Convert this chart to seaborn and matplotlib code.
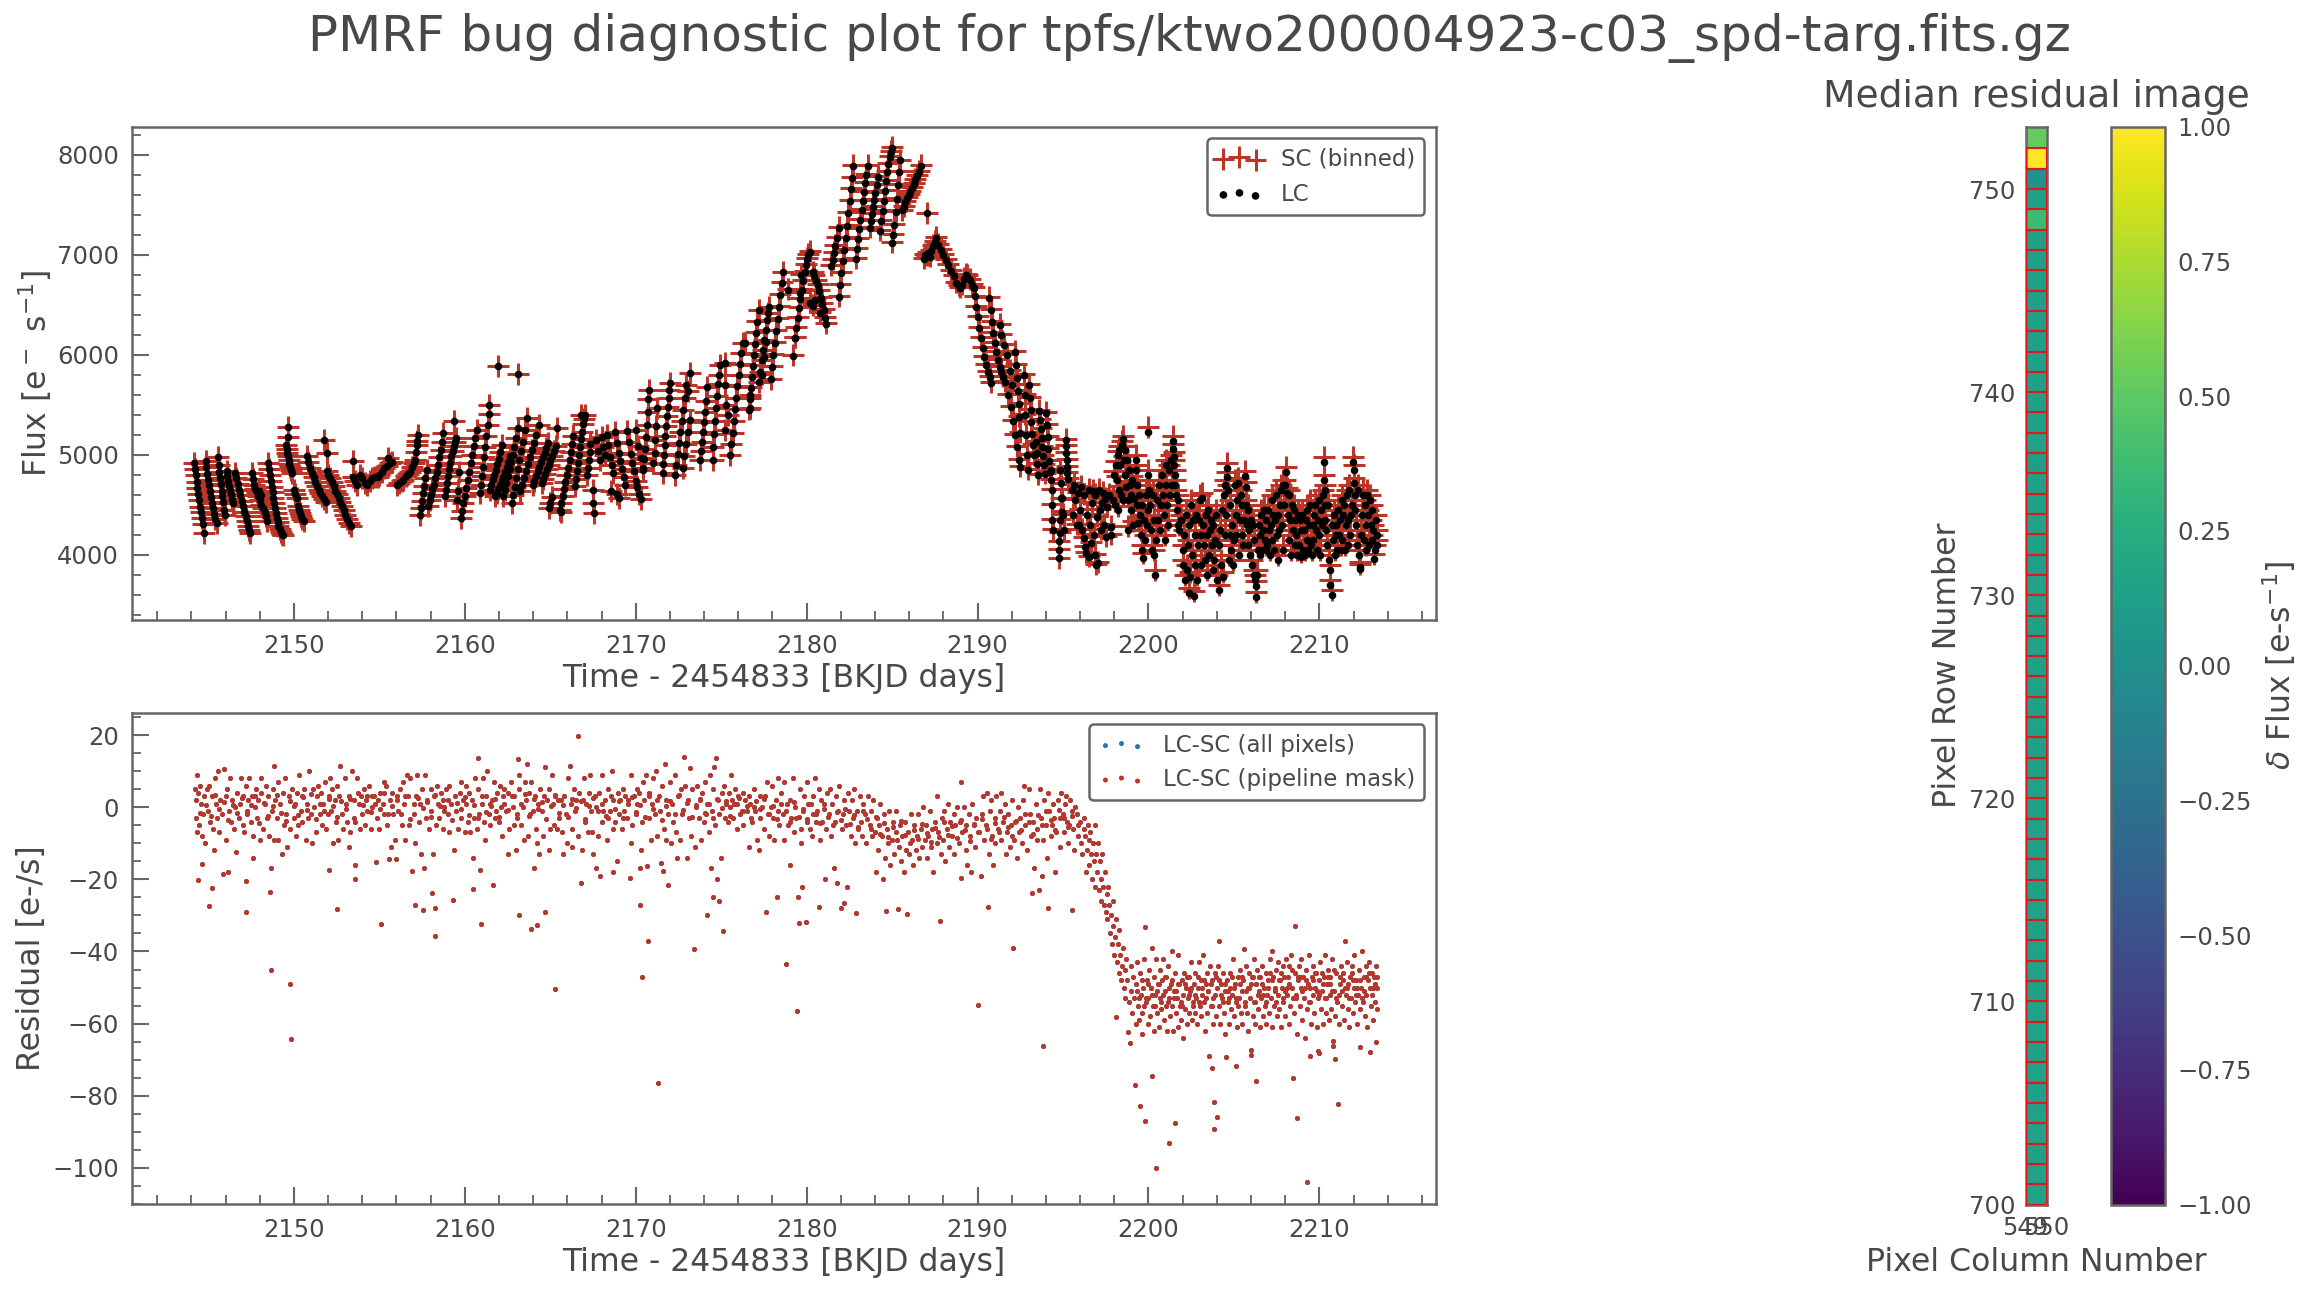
import numpy as np
import matplotlib
matplotlib.use("Agg")
import matplotlib.pyplot as plt
from matplotlib.patches import Rectangle
from matplotlib.ticker import MultipleLocator, FixedLocator
import pandas as pd
import seaborn as sns

TITLE = "PMRF bug diagnostic plot for tpfs/ktwo200004923-c03_spd-targ.fits.gz"

# (time, flux), grouped by stretch of the light curve
lc_a = [(2144.15,4920),(2144.2,4860),(2144.26,4795),(2144.31,4725),(2144.36,4665),(2144.42,4605),(2144.47,4550),(2144.53,4480),(2144.58,4425),(2144.63,4365),(2144.68,4310),(2144.73,4220),
(2144.83,4935),(2144.88,4875),(2144.93,4810),(2144.99,4750),(2145.05,4695),(2145.11,4635),(2145.17,4575),(2145.23,4520),(2145.29,4465),(2145.35,4410),(2145.41,4360),(2145.48,4315),
(2145.57,4975),(2145.61,4900),(2145.64,4830),(2145.68,4770),(2145.73,4705),(2145.77,4640),(2145.81,4590),(2145.85,4530),(2145.9,4450),(2145.96,4400),
(2146.06,4835),(2146.11,4785),(2146.16,4740),(2146.21,4690),(2146.26,4650),(2146.31,4605),(2146.36,4560),(2146.45,4515),
(2146.55,4820),(2146.63,4765),(2146.71,4710),(2146.79,4650),(2146.87,4600),(2146.95,4540),(2147.03,4490),(2147.11,4430),(2147.19,4385),(2147.27,4340),(2147.33,4290),(2147.38,4250),(2147.43,4215),
(2147.53,4815),(2147.6,4760),(2147.68,4700),(2147.75,4660),(2147.83,4625),(2147.91,4590),(2148.0,4545),(2148.1,4500),(2148.2,4470),(2148.3,4425),(2148.38,4385),(2148.44,4335),(2147.95,4640),(2148.05,4600),
(2148.5,4915),(2148.55,4860),(2148.6,4800),(2148.65,4740),(2148.7,4680),(2148.75,4625),(2148.8,4570),(2148.85,4520),(2148.9,4465),(2148.95,4415),(2149.0,4365),(2149.05,4325),(2149.1,4285),(2149.16,4255),(2149.22,4230),(2149.3,4210),(2149.38,4195),
(2149.67,5277),(2149.63,5184),(2149.54,5100),(2149.58,5060),(2149.62,5020),(2149.66,4985),(2149.7,4945),(2149.74,4905),(2149.78,4875),(2149.82,4845),(2149.87,4815),
(2150.02,4650),(2150.08,4610),(2150.16,4570),(2150.26,4485),(2150.32,4450),(2150.38,4420),(2150.44,4390),(2150.5,4360),(2150.59,4335),
(2150.75,4985),(2150.85,4930),(2150.95,4870),(2151.05,4820),(2151.15,4775),(2151.25,4730),(2151.35,4690),(2151.45,4650),(2151.55,4620),(2151.65,4590),(2151.75,4560),(2151.88,4530),
(2151.78,5147),(2151.96,5017),(2151.92,4835),(2152.02,4800),(2152.12,4770),(2152.22,4725),(2152.32,4685),(2152.42,4640),(2152.52,4605),(2152.62,4565),(2152.72,4525),(2152.82,4490),(2152.92,4450),(2153.02,4400),(2153.12,4360),(2153.22,4320),(2153.32,4285),
(2153.48,4937),(2153.48,4784),(2153.6,4740),(2153.7,4700),(2153.85,4800),(2154.0,4770),(2154.15,4718),(2154.3,4700),(2154.45,4735),(2154.6,4768),(2154.75,4775),(2154.9,4784),(2155.0,4800),(2155.15,4830),(2155.3,4868),(2155.45,4890),(2155.6,4918),(2155.75,4930),(2155.53,4967),
(2156.02,4700),(2156.15,4718),(2156.3,4735),(2156.4,4751),(2156.55,4790),(2156.7,4810),(2156.8,4834),(2156.9,4880),(2157.0,4920),(2157.09,4951),(2157.15,5030),(2157.2,5100),(2157.23,5140),(2157.27,5195),
(2157.38,4400),(2157.45,4470),(2157.52,4540),(2157.58,4620),(2157.64,4690),(2157.7,4770),(2157.77,4850),
(2157.87,4485),(2157.95,4545),(2158.03,4600),(2158.11,4655),(2158.2,4700),(2158.28,4765),(2158.36,4830),(2158.44,4900),(2158.52,4980),(2158.6,5050),(2158.68,5130),(2158.75,5215),
(2158.84,4585),(2158.9,4650),(2158.96,4720),(2159.02,4790),(2159.09,4860),(2159.15,4920),(2159.22,4985),(2159.29,5040),(2159.36,5090),(2159.43,5130),(2159.49,5165),(2159.39,5337),
(2159.53,4550),(2159.6,4640),(2159.68,4830),(2159.78,4370),(2159.85,4440),(2159.92,4520),(2160.0,4590),(2160.08,4670),(2160.16,4750),(2160.25,4830),(2160.34,4920),(2160.43,5000),(2160.52,5090),(2160.61,5170),(2160.7,5250)]

lc_b = [(2160.89,4620),(2160.94,4700),(2161.0,4790),(2161.06,4880),(2161.13,4980),(2161.2,5080),(2161.27,5190),(2161.33,5300),(2161.39,5410),(2161.44,5500),
(2161.96,5890),(2163.13,5810),
(2161.48,4650),(2161.55,4700),(2161.63,4755),(2161.72,4800),(2161.81,4850),(2161.9,4905),(2162.0,4960),(2162.08,5030),(2162.16,5100),
(2161.77,4585),(2161.86,4620),(2161.95,4660),(2162.05,4700),(2162.15,4740),(2162.25,4780),(2162.35,4830),(2162.45,4880),(2162.55,4930),(2162.65,4985),
(2162.26,4585),(2162.35,4650),(2162.44,4720),(2162.53,4790),(2162.62,4860),(2162.71,4930),(2162.8,5000),(2162.9,5080),(2163.0,5170),(2163.13,5270),
(2162.74,4520),(2162.83,4600),(2162.92,4680),(2163.01,4770),(2163.1,4860),(2163.2,4950),(2163.3,5040),(2163.4,5130),(2163.5,5250),(2163.62,5370),
(2163.23,4635),(2163.35,4700),(2163.47,4770),(2163.59,4840),(2163.71,4910),(2163.83,4980),(2163.95,5050),(2164.07,5120),(2164.19,5200),(2164.36,5300),
(2163.97,4700),(2164.07,4740),(2164.17,4790),(2164.27,4840),(2164.37,4880),(2164.47,4930),(2164.57,4980),(2164.67,5020),(2164.77,5070),(2164.89,5120),(2165.38,5268),
(2164.5,4720),(2164.6,4760),(2164.7,4810),(2164.8,4860),(2164.9,4900),(2165.0,4950),(2165.1,4990),(2165.2,5040),(2165.34,5085),(2164.9,4470),(2165.0,4520),(2165.1,4580),
(2165.57,4450),(2165.65,4520),(2165.73,4590),(2165.81,4660),(2165.89,4730),(2165.97,4800),(2166.05,4870),(2166.13,4950),(2166.21,5030),(2166.29,5110),(2166.35,5185),(2165.65,4430),
(2166.45,4685),(2166.51,4760),(2166.57,4840),(2166.63,4920),(2166.69,5000),(2166.75,5080),(2166.81,5160),(2166.87,5230),(2166.93,5310),(2167.04,5400),(2166.8,5400),(2166.95,5360),
(2167.53,4650),(2167.5,4520),(2167.55,4420),(2167.15,4800),(2167.2,4870),(2167.25,4950),(2167.3,5030),(2167.35,5110),
(2167.7,5150),(2167.8,5040),(2167.9,4950),(2168.0,5180),(2168.1,5080),(2168.2,5000),(2168.3,5200),(2168.4,5100),(2168.5,4980),(2168.6,4900),(2168.7,4820),(2168.8,5230),(2168.9,5120),(2169.0,5020),(2169.1,4940),(2169.2,4860),(2169.3,4780),(2169.4,4700),(2168.55,4640),(2168.9,4610),(2169.05,4570),(2169.5,5240),(2169.6,5130),(2169.7,5010),(2169.8,4920),(2169.9,4840),(2170.0,4740),(2170.1,4680),(2170.2,4610),(2170.3,4560),(2170.0,5250),(2170.15,5090),(2170.3,4970),(2170.45,4870),
(2170.45,4850),(2170.5,4960),(2170.55,5060),(2170.6,5180),(2170.65,5300),(2170.7,5430),(2170.75,5650),(2170.72,5560),
(2171.04,4920),(2171.1,5020),(2171.15,5150),(2171.2,5290),(2171.23,5470),
(2171.58,4820),(2171.62,4910),(2171.66,5000),(2171.7,5100),(2171.74,5190),(2171.78,5290),(2171.83,5390),(2171.88,5480),(2171.93,5570),(2171.97,5650),(2172.0,5720),
(2172.3,4800),(2172.38,4900),(2172.46,5010),(2172.54,5120),(2172.62,5230),(2172.7,5340),(2172.78,5450),(2172.86,5570),(2172.95,5700),(2173.18,5820),
(2172.74,4870),(2172.84,4990),(2172.94,5110),(2173.06,5230),(2173.18,5350),(2173.05,5640),
(2173.77,4950),(2173.83,5040),(2173.89,5130),(2173.95,5230),(2174.01,5330),(2174.07,5430),(2174.12,5540),(2174.16,5680),
(2174.5,4950),(2174.55,5080),(2174.6,5210),(2174.65,5340),(2174.7,5470),(2174.75,5590),(2174.8,5710),(2174.85,5800),(2174.92,5900),
(2175.23,5917),(2175.2,5700),(2175.3,5500),(2175.4,5400),(2175.25,5250),
(2175.53,5000),(2175.6,5110),(2175.67,5220),(2175.74,5340),(2175.81,5460),(2175.88,5570),(2175.95,5690),(2176.02,5800),(2176.1,5910),(2176.18,6020),(2176.26,6120),(2176.41,6120),
(2176.7,5470),(2176.7,5600),(2177.2,5730),(2177.28,5830),(2177.36,5950),(2177.44,6050),(2177.52,6150),(2177.6,6250),(2177.66,6350),(2177.72,6420),(2177.78,6480)]

lc_c = [(2176.62,5450),(2176.68,5560),(2176.74,5670),(2176.8,5780),(2176.86,5890),(2176.92,6000),(2176.98,6110),(2177.04,6220),(2177.1,6330),(2177.19,6446),
(2177.4,5800),(2177.5,5980),(2177.6,6130),
(2177.9,5757),(2177.98,5880),(2178.06,6000),(2178.14,6120),(2178.22,6240),(2178.3,6360),(2178.38,6480),(2178.46,6600),(2178.54,6720),(2178.6,6825),
(2179.2,5990),(2179.3,6170),(2178.9,6650),
(2179.32,6170),(2179.4,6270),(2179.48,6370),(2179.56,6470),(2179.64,6560),(2179.72,6650),(2179.8,6740),(2179.88,6830),(2179.96,6900),(2180.04,6960),(2180.1,7000),(2180.17,7030),
(2179.6,6620),(2179.7,6800),(2180.37,6490),
(2180.37,6825),(2180.46,6790),(2180.55,6740),(2180.64,6700),(2180.73,6640),(2180.82,6570),(2180.91,6510),(2181.0,6450),(2181.1,6370),(2181.16,6310),(2180.2,6520),(2180.5,6550),(2180.8,6420),
(2181.45,6890),(2181.52,6950),(2181.6,7020),(2181.67,7090),(2181.75,7170),(2181.87,7270),
(2181.87,6580),(2181.96,6700),(2182.04,6820),(2182.12,6940),(2182.2,7050),(2182.28,7170),(2182.36,7290),(2182.44,7420),(2182.52,7540),(2182.6,7660),(2182.66,7770),(2182.72,7890),
(2182.87,6960),(2182.94,7060),(2183.01,7160),(2183.08,7260),(2183.15,7350),(2183.22,7450),(2183.29,7540),(2183.36,7630),(2183.43,7720),(2183.5,7800),(2183.58,7890),
(2183.72,7270),(2183.78,7340),(2183.84,7410),(2183.9,7480),(2183.96,7550),(2184.02,7620),(2184.1,7700),(2184.2,7780),
(2184.3,7240),(2184.37,7340),(2184.44,7440),(2184.51,7540),(2184.58,7640),(2184.65,7740),(2184.72,7830),(2184.79,7910),(2184.86,7980),(2184.93,8030),(2185.0,8070),
(2185.0,7118),(2185.07,7200),(2185.14,7300),(2185.21,7430),(2185.28,7560),(2185.35,7700),(2185.42,7830),(2185.48,7945),
(2185.57,7445),(2185.67,7480),(2185.77,7530),(2185.87,7570),(2185.97,7600),(2186.07,7630),(2186.17,7670),(2186.27,7710),(2186.37,7750),(2186.47,7790),(2186.57,7830),(2186.7,7890),
(2187.05,7417),(2186.85,6960),(2186.95,7000),(2187.02,6990),(2187.1,7020),(2187.2,6980),(2187.3,7040),(2187.4,7090),(2187.5,7130),(2187.56,7170)]

lc_d = [(2187.7,7100),(2187.85,7050),(2188.0,7000),(2188.15,6950),(2188.3,6900),(2188.45,6840),(2188.6,6790),(2188.75,6720),(2188.9,6690),(2189.0,6670),(2189.1,6700),(2189.2,6760),(2189.3,6800),(2189.4,6790),(2189.55,6750),(2189.7,6700),(2189.8,6670),
(2189.83,6584),(2189.9,6480),(2190.0,6380),(2190.1,6270),(2190.2,6170),(2190.3,6070),(2190.4,5980),(2190.5,5900),(2190.6,5830),(2190.7,5780),(2190.8,5720),
(2190.68,6570),(2190.76,6450),(2190.84,6330),(2190.92,6220),(2191.0,6120),(2191.1,6030),(2191.2,5950),(2191.3,5880),(2191.4,5830),(2191.5,5780),(2191.6,5730),
(2191.3,6300),(2191.4,6200),(2191.55,6100),(2191.7,6000),
(2192.2,6030),(2192.25,5900),(2192.3,5770),(2192.35,5640),(2192.4,5510),(2192.45,5380),(2192.5,5220),
(2191.9,5840),(2192.0,5700),(2191.8,5600),(2191.95,5480),(2192.1,5340),(2192.2,5200),(2192.3,5080),(2192.4,4950),(2192.5,4880),
(2192.7,5800),(2192.75,5600),(2192.8,5400),(2192.85,5200),(2192.9,5000),(2192.95,4850),
(2193.0,5700),(2193.05,5570),(2193.1,5450),(2193.15,5330),(2193.2,5210),(2193.25,5100),(2193.3,5000),
(2193.6,5440),(2193.65,5350),(2193.7,5260),(2193.75,5170),(2193.8,5080),(2193.85,4990),(2193.9,4900),(2193.95,4810),(2194.0,5420),(2194.05,5300),(2194.1,5180),(2194.15,5060),(2194.2,4940),(2194.25,4830),(2193.4,5130),(2193.45,5020),(2193.5,4910),(2193.55,4800),
(2195.15,5150),(2195.17,5090),(2195.19,5020),(2195.21,4950),(2195.23,4880),(2195.25,4820),(2195.3,4760),
(2194.76,3968),(2194.76,4051),(2194.76,4135),(2194.8,4220),(2194.9,4567),(2194.88,4717),(2194.82,4850),(2194.8,4350),(2194.95,4430),
(2194.28,4850),(2194.3,4750),(2194.33,4650),(2194.36,4500),(2194.38,4350),(2194.4,4250),(2194.95,4567),(2195.0,4400),(2195.05,4250),
(2195.5,4650),(2195.6,4400),(2195.7,4550),(2195.8,4300),(2195.9,4620),(2196.0,4450),(2196.1,4250),(2196.2,4600),(2196.25,4170),(2196.3,4080),(2196.35,4020),(2196.4,4400),(2196.5,4650),(2196.55,3980),(2196.6,4300),(2196.7,4520),(2196.8,4200),(2196.85,4000),(2196.9,4600),(2196.95,3900),(2197.0,4380),(2197.05,3920),(2197.1,4650),(2197.2,4250),(2197.3,4520),(2197.4,4300),(2197.5,4180),(2197.6,4480),(2197.7,4600),(2197.78,4280),(2197.8,4200),(2195.65,4700),(2195.95,4300),(2196.05,4680),(2196.65,4120),(2196.75,4640),(2197.35,4620),(2197.15,4450),(2197.45,4560)]

lc_e = [(2198.0,4800),(2198.1,4900),(2198.15,4750),(2198.2,5000),(2198.25,4650),(2198.3,5050),(2198.35,4900),(2198.4,4600),(2198.45,5100),(2198.5,5157),(2198.55,4950),(2198.6,4800),(2198.65,5050),(2198.7,4680),(2198.75,4950),(2198.8,4550),(2198.85,4850),(2198.9,4700),(2198.95,4600),(2199.0,4450),(2199.05,4750),(2199.1,4300),(2199.15,4560),(2198.05,4500),(2198.2,4450),(2198.5,4550),(2198.8,4250),(2197.9,4550)]

lc_f = [(2199.25,4950),(2199.3,4850),(2199.35,4700),(2199.35,4500),(2199.4,4320),(2199.45,4600),(2199.5,4400),(2199.55,4200),(2199.6,4050),(2199.65,4500),(2199.7,3970),(2199.75,4350),(2199.8,4150),(2199.85,4600),(2199.9,4300),(2199.95,4450),(2199.97,5227),(2200.0,4800),(2200.05,4650),(2200.1,4500),(2200.15,4250),(2200.2,4050),(2200.25,4600),(2200.3,4350),(2200.35,4000),(2200.41,3800),(2200.45,4150),(2200.5,4550),(2200.55,4350),(2200.6,4700),(2200.7,4250),(2200.75,4500),(2200.8,4800),(2200.85,4600),(2200.9,4400),(2200.95,4150),(2201.0,4900),(2201.05,4700),(2201.1,4500),(2201.15,4300),(2201.2,4850),(2201.25,4600),(2201.3,4950),(2201.35,4700),(2201.43,5140),(2201.45,5060),(2201.47,4980),(2201.5,4900),(2201.53,4800),(2201.56,4700),(2201.6,4600),(2201.65,4450),(2201.7,4300),(2201.75,4550),(2201.8,4250),
(2201.9,4350),(2202.0,4050),(2202.05,3900),(2202.1,4200),(2202.15,3750),(2202.2,4400),(2202.25,3850),(2202.3,4100),(2202.36,3620),(2202.4,4300),(2202.45,3780),(2202.5,4500),(2202.55,4000),(2202.6,4350),(2202.66,3585),(2202.7,3900),(2202.75,4200),(2202.8,4400),(2202.85,3750),(2202.9,4100),(2202.95,4350),(2203.0,4550),(2203.05,4200),(2203.1,3900),(2203.15,4570),(2203.2,4300),(2203.25,4100),(2203.3,3950),(2203.35,4400),(2203.4,4200),(2203.45,3800),(2203.5,4450),(2203.55,4000),(2203.6,4250),(2203.65,4350),(2203.7,4100),(2203.75,3850),(2203.8,4300),(2203.85,3950),(2203.9,4150),(2203.95,4400),(2204.0,3750),(2204.1,3650),(2204.15,4100),(2204.2,4250),(2204.25,3900),(2204.3,4450),(2204.35,3780),(2204.4,4600),(2204.45,4200),(2204.5,4700),(2204.55,4400),(2204.6,4870),(2204.62,4780),(2204.65,4650),(2204.7,3950),(2204.75,4200),(2204.8,4500),(2204.85,4050),(2204.9,4300),(2204.95,3900),
(2205.0,4150),(2205.05,4700),(2205.1,4400),(2205.15,4200),(2205.2,4550),(2205.25,4720),(2205.3,4000),(2205.35,4350),(2205.4,4600),(2205.45,4200),(2205.5,4500),(2205.55,4100),(2205.6,4350),(2205.64,4790),(2205.68,4680),(2205.72,4500),(2205.76,4300),(2205.8,4100),(2205.85,4450),(2205.9,4250),(2205.95,4000),(2206.0,4350),(2206.05,3900),(2206.1,4300),(2206.15,3800),(2206.2,4150),(2206.25,3750),(2206.28,3578),(2206.32,3690),(2206.36,3800),(2206.4,4050),(2206.45,4300),(2206.5,4000),(2206.55,4200),(2206.6,4400),(2206.65,4050),(2206.7,4250),(2206.75,4450),(2206.8,4150),(2206.85,4050),(2206.9,4350),(2206.95,4100),(2207.0,4450),(2207.05,4250),(2207.1,4000),(2207.15,4300),(2207.2,4550),(2207.25,4150),(2207.3,4400),(2207.35,4050),(2207.4,4350),(2207.45,4600),(2207.5,4200),(2207.55,4400),(2207.6,3950),(2207.65,4250),(2207.7,4500),(2207.75,4650),(2207.8,4300),(2207.85,4700),(2207.9,4050),(2207.95,4500),(2208.0,4700),(2208.02,4830),(2208.08,4620),(2208.15,4400),(2208.2,4150),(2208.25,4600),(2208.3,4350),(2208.35,4000),(2208.4,4500),(2208.45,4250),(2208.5,4450),(2208.55,4100),(2208.6,4350),(2208.65,4200),(2208.7,4000),(2208.75,4400),(2208.8,4100),(2208.85,4350),(2208.9,3980),(2208.95,4250),
(2209.0,4400),(2209.05,4050),(2209.1,4250),(2209.15,4000),(2209.2,4350),(2209.25,4150),(2209.3,4450),(2209.35,4050),(2209.4,4300),(2209.45,4500),(2209.5,4100),(2209.55,4000),(2209.6,4300),(2209.65,4150),(2209.7,4400),(2209.75,4500),(2209.8,4250),(2209.85,4050),(2209.9,4350),(2209.95,4550),(2210.0,4200),(2210.05,4000),(2210.1,4450),(2210.15,4300),(2210.2,4600),(2210.26,4930),(2210.28,4750),(2210.3,4650),(2210.32,4500),(2210.35,4350),(2210.4,4250),(2210.45,4100),(2210.5,4500),(2210.55,3950),(2210.6,3850),(2210.65,3700),(2210.71,3600),(2210.75,4300),(2210.8,4150),(2210.85,4400),(2210.9,4000),(2210.95,4200),(2211.0,4300),(2211.05,4050),(2211.1,4450),(2211.15,4200),(2211.2,4350),(2211.25,4050),(2211.3,4550),(2211.35,4150),(2211.4,4400),(2211.45,4500),(2211.5,4050),(2211.55,4300),(2211.6,4600),(2211.65,4100),(2211.7,4350),(2211.75,4650),(2211.8,4200),(2211.85,4400),(2211.9,4500),(2211.97,4930),(2212.0,4850),(2212.03,4720),(2212.06,4600),(2212.1,4450),(2212.15,4300),(2212.2,4100),(2212.25,4650),(2212.3,4000),(2212.35,3880),(2212.4,3860),(2212.45,4200),(2212.5,4400),(2212.55,4600),(2212.6,4150),(2212.65,4500),(2212.7,4300),(2212.75,4050),(2212.8,4600),(2212.85,4400),(2212.9,4100),(2212.95,4550),(2213.0,4300),(2213.05,4450),(2213.1,4150),(2213.15,4250),(2213.2,3960),(2213.25,4050),(2213.3,4350),(2213.35,4200),(2213.4,4100)]

lc_groups = [lc_a, lc_b, lc_c, lc_d, lc_e, lc_f]
# how far the binned short-cadence flux sits above the long-cadence flux in each stretch
sc_above_lc = [0, 0, 6, 6, 35, 50]

# (time, residual)
res_outliers = [(2144.41,-20.2),(2144.65,-15.8),(2145.2,-22.3),(2145.04,-27.3),(2145.85,-18.4),(2146.14,-17.9),(2147.18,-20.6),(2147.18,-29),(2147.6,-14),(2148.6,-23.6),(2148.64,-17),(2148.64,-45),(2149.76,-49),(2149.82,-64.2),(2152.04,-17.3),(2152.5,-28.3),(2153.55,-20),(2153.6,-15.9),(2155.1,-32.3),(2154.78,-15.3),(2155.56,-14.4),(2156,-14.3),(2156.9,-17.6),(2157.08,-27),(2157.57,-28.6),(2157.6,-16.8),(2158.1,-23.9),(2158.25,-27.9),(2158.25,-35.8),(2159.3,-25.6),(2160.47,-22.6),(2160.9,-17.3),(2160.94,-32.3),(2161.64,-21.7),(2163.16,-29.8),(2163.86,-33.9),(2164.2,-32.6),(2164.67,-29),(2165.25,-50.3),(2164.05,-16.8),(2166.79,-20.9),(2167.68,-17),(2167.9,-19),(2168.67,-17.9),(2169.66,-19.5),(2170.23,-27),(2170.36,-47),(2170.26,-17),(2170.7,-37),(2170.65,-16.2),(2171.33,-76.4),(2171.49,-15.5),(2171.6,-17.6),(2171.88,-21.5),(2173.4,-39.2),
(2166.6,19.6),(2160.76,13.7),(2163.1,13.3),(2163.63,12.1),(2166.14,11.5),(2171.7,12.1),(2172.82,14),(2148.82,11.5),(2152.7,11.3),(2173.2,10.9),
(2175.09,-34.4),(2174.15,-30),(2174.7,13.5),(2177.6,-29),(2178.27,-25),(2178.78,-43.5),(2179.43,-56.6),(2179.55,-32),(2179.94,-31.7),(2179.5,-25),(2179.74,-22.2),(2180.74,-27.8),(2182,-27.9),(2182.16,-26.7),(2182.9,-29.4),(2184.66,-28.9),(2185.34,-28.3),(2185.9,-29.7),(2187.78,-31.6),(2189.03,7.1),(2189.03,-19.5),(2190.6,-27.8),(2190,-54.9),(2192.1,-39.1),(2193.2,-23.9),(2193.58,-23),(2194.1,-28),(2193.84,-66.3),(2195.54,-28.6),(2192.73,6),
(2199.2,-76.9),(2199.52,-82.9),(2199.8,-87.1),(2200.43,-99.9),(2200.23,-74.6),(2201.22,-93.2),(2201.56,-87.6),(2203.86,-81.6),(2204.03,-85.8),(2203.86,-89.3),(2203.55,-69),(2203.72,-72.2),(2204.55,-69.3),(2205.14,-71.8),(2206.02,-67.2),(2206,-68.6),(2206.28,-75.8),(2208.44,-75.2),(2208.72,-86.3),(2209.26,-104),(2211.1,-82.4),(2209.43,-69),(2210.94,-69.9),(2209.94,-67.7),(2209.97,-68.2),(2212.36,-66.6),(2212.95,-67.8),(2213.3,-65.2),(2210.8,-64.7),(2210.8,-66.2),
(2199.8,-33.3),(2204.1,-37),(2208.55,-33),(2211.48,-37.2),(2205.6,-39.4),(2207.2,-39.8),(2198.12,-58.3),(2198.92,-65.4),(2198.8,-62.2),(2199.6,-62.8)]

res_band_a = [(2144.2,5),(2144.25,-3),(2144.3,2),(2144.32,-7),(2144.36,9),(2144.4,4),(2144.45,-5),(2144.5,6),(2144.55,1),(2144.6,-8),(2144.7,-2),(2144.75,3),(2144.8,-10),(2144.9,5),(2145,-1),(2145.05,6),(2145.1,-4),(2145.2,3),(2145.25,-6),(2145.3,-12),(2145.4,8),(2145.45,1),(2145.5,-3),(2145.55,10),(2145.6,-7),(2145.7,2),(2145.8,-2),(2145.9,10.5),(2146,3),(2146.05,-9),(2146.1,5),(2146.2,-1),(2146.25,8),(2146.3,-4),(2146.4,2),(2146.5,-6),(2146.55,0),(2146.6,-12.5),(2146.7,4),(2146.8,-3),(2146.85,1),(2146.9,8),(2147,-5),(2147.05,3),(2147.1,-7),(2147.2,6),(2147.25,-1),(2147.3,2),(2147.4,8),(2147.5,-4),(2147.55,3),(2147.6,-8),(2147.7,0),(2147.8,5),(2147.85,-3),(2147.9,2),(2148,-9),(2148.05,4),(2148.1,8),(2148.2,-6),(2148.3,1),(2148.35,6),(2148.4,-3),(2148.5,3),(2148.55,-8),(2148.7,-1),(2148.75,5),(2148.85,-9),(2148.9,2),(2149,-3),(2149.05,7),(2149.1,-9),(2149.2,1),(2149.3,-13),(2149.35,4),(2149.4,-5),(2149.5,8),(2149.55,-2),(2149.6,-11),(2149.7,3),(2149.8,-6),(2149.9,5),(2150,-3),(2150.05,1),(2150.1,-8),(2150.2,4),(2150.25,-5),(2150.3,9),(2150.4,-1),(2150.45,3),(2150.5,-4),(2150.6,5),(2150.7,-9),(2150.75,1),(2150.8,-3),(2150.9,10),(2151,-2),(2151.05,-10),(2151.1,5),(2151.2,0),(2151.3,-7),(2151.35,3),(2151.4,6),(2151.5,-2),(2151.6,4),(2151.65,-5),(2151.7,1),(2151.8,7),(2151.9,-6),(2152,-2),(2152.05,3),(2152.1,8),(2152.2,-1),(2152.25,5),(2152.3,-10),(2152.4,2),(2152.45,-4),(2152.5,6),(2152.6,-9),(2152.65,3),(2152.8,-2),(2152.9,-6),(2153,8),(2153.05,1),(2153.1,-4),(2153.2,-11),(2153.25,3),(2153.3,-7),(2153.4,10),(2153.5,2),(2153.6,-4),(2153.7,8),(2153.8,1),(2153.85,-6),(2153.9,3),(2154,-2),(2154.1,5),(2154.15,-5),(2154.2,2),(2154.3,-1),(2154.4,6),(2154.5,-6),(2154.55,3),(2154.6,0),(2154.7,3),(2154.85,-3),(2154.9,2),(2155,-6),(2155.05,4),(2155.2,1),(2155.25,7),(2155.3,-2),(2155.4,6),(2155.45,-5),(2155.6,2),(2155.7,-11),(2155.75,4),(2155.8,-2),(2155.9,-9),(2156.05,3),(2156.1,-1),(2156.2,5),(2156.3,-5),(2156.4,7),(2156.45,1),(2156.5,-9),(2156.6,9),(2156.7,3),(2156.75,-5),(2156.8,8),(2157,-2),(2157.1,-10),(2157.15,3),(2157.2,9),(2157.3,-4),(2157.4,1),(2157.45,-13),(2157.5,5),(2157.7,9),(2157.75,-3),(2157.8,2),(2157.9,-6),(2158,5),(2158.05,-1),(2158.15,-13),(2158.2,3),(2158.3,-5),(2158.4,6),(2158.45,1),(2158.5,-3),(2158.6,4),(2158.7,-6),(2158.75,2),(2158.8,0),(2158.9,5),(2159,-2),(2159.05,6),(2159.1,-7),(2159.2,1),(2159.35,-12),(2159.4,3),(2159.5,-1),(2159.6,-6),(2159.7,4),(2159.75,7),(2159.8,-3),(2159.9,2),(2160,-7),(2160.05,6),(2160.1,1),(2160.2,-4),(2160.25,4),(2160.3,-7),(2160.4,2),(2160.5,-14),(2160.55,-3),(2160.6,8),(2160.7,-6),(2160.8,5),(2160.85,-2),(2161,1),(2161.05,8),(2161.1,-4),(2161.2,-9),(2161.25,3),(2161.3,10),(2161.4,-2),(2161.45,1),(2161.5,-5),(2161.6,2),(2161.7,7),(2161.75,-3),(2161.8,-1),(2161.9,4),(2162,-4),(2162.05,6),(2162.1,0),(2162.2,-8),(2162.25,3),(2162.3,5),(2162.4,-1),(2162.5,-13),(2162.55,4),(2162.6,-6),(2162.7,7),(2162.8,0),(2162.85,-5),(2162.9,3),(2163,-12),(2163.05,-3),(2163.15,9),(2163.2,5),(2163.3,-5),(2163.4,0),(2163.45,-9),(2163.5,7),(2163.6,2),(2163.7,-8),(2163.75,4),(2163.8,-2),(2163.9,7),(2164,-1),(2164.1,3),(2164.15,-6),(2164.25,-10),(2164.3,1),(2164.35,-13),(2164.4,5),(2164.5,-1),(2164.6,-8),(2164.65,3),(2164.7,11),(2164.8,2),(2164.9,-12),(2164.95,5),(2165,-6),(2165.1,9),(2165.15,1),(2165.2,-5),(2165.3,3),(2165.4,-6),(2165.45,2),(2165.5,-3),(2165.6,2),(2165.7,-7),(2165.75,-13),(2165.8,3),(2165.9,-2),(2166,-10),(2166.05,8),(2166.2,1),(2166.25,-6),(2166.3,-11),(2166.4,5),(2166.45,-1),(2166.5,2),(2166.65,-8),(2166.7,4),(2166.85,-12),(2166.9,2),(2167,8),(2167.05,-4),(2167.1,1),(2167.2,-7),(2167.25,4),(2167.3,9),(2167.4,-1),(2167.45,-7),(2167.5,-13),(2167.6,3),(2167.7,0),(2167.8,-8),(2167.85,4),(2168,-4),(2168.05,9),(2168.1,-1),(2168.2,2),(2168.3,-9),(2168.35,5),(2168.4,-3),(2168.5,-1),(2168.6,10),(2168.65,-6),(2168.7,2),(2168.8,-4),(2168.9,-15),(2168.95,4),(2169,-2),(2169.1,2),(2169.2,-6),(2169.25,5),(2169.3,-1),(2169.4,3),(2169.5,-3),(2169.55,2),(2169.7,9),(2169.75,-10),(2169.8,-5),(2169.9,3),(2170,-2),(2170.05,5),(2170.1,1),(2170.2,4),(2170.3,-12),(2170.35,-4),(2170.45,7),(2170.5,2),(2170.6,9),(2170.75,-3),(2170.8,4),(2170.9,-9),(2170.95,1),(2171,8),(2171.1,-2),(2171.2,10),(2171.25,-8),(2171.35,3),(2171.45,-1),(2171.55,6),(2171.65,-6),(2171.75,2),(2171.8,-9),(2171.9,-2),(2172,7),(2172.05,-10),(2172.1,1),(2172.2,-4),(2172.3,9),(2172.35,-7),(2172.4,-14),(2172.5,3),(2172.6,-9),(2172.65,5),(2172.7,-2),(2172.9,6),(2173,-14),(2173.05,2),(2173.1,-3),(2173.25,-8),(2173.3,5),(2173.45,-11),(2173.5,0),(2173.6,6),(2173.7,-3),(2173.75,2),(2173.8,-9)]

res_band_b = [(2173.9,4),(2174,-4),(2174.05,7),(2174.1,-2),(2174.2,1),(2174.3,-7),(2174.35,9),(2174.4,-17),(2174.45,-1),(2174.5,-25),(2174.55,5),(2174.6,11),(2174.65,-5),(2174.75,-20),(2174.8,2),(2174.85,-26),(2174.9,-2),(2175,-14),(2175.05,4),(2175.15,6),(2175.2,-3),(2175.3,1),(2175.4,-4),(2175.45,4),(2175.5,0),(2175.6,9),(2175.65,2),(2175.7,-3),(2175.8,5),(2175.9,-6),(2175.95,1),(2176,3),(2176.1,-2),(2176.2,-1),(2176.25,4),(2176.3,-5),(2176.4,2),(2176.5,-1),(2176.6,-11),(2176.65,3),(2176.7,1),(2176.8,-4),(2176.9,5),(2176.95,0),(2177,-1),(2177.1,-9),(2177.2,-12),(2177.25,3),(2177.3,-3),(2177.4,0),(2177.5,-6),(2177.55,3),(2177.7,7),(2177.75,-2),(2177.8,-8),(2177.9,0),(2178,6),(2178.05,-3),(2178.1,-9),(2178.2,2),(2178.3,8),(2178.35,-1),(2178.4,-5),(2178.5,4),(2178.6,-2),(2178.65,-9),(2178.7,7),(2178.85,1),(2178.9,-5),(2179,2),(2179.05,-16),(2179.1,-3),(2179.2,8),(2179.25,-7),(2179.3,0),(2179.4,-3),(2179.6,5),(2179.65,-6),(2179.7,-10),(2179.8,-1),(2179.85,3),(2180,-4),(2180.05,7),(2180.1,1),(2180.2,-6),(2180.3,-8),(2180.35,3),(2180.4,-2),(2180.5,8),(2180.55,-4),(2180.6,-1),(2180.7,5),(2180.8,-9),(2180.85,2),(2180.9,-4),(2181,1),(2181.1,-20),(2181.15,-6),(2181.2,4),(2181.3,-2),(2181.35,5),(2181.4,-8),(2181.5,1),(2181.6,-17),(2181.65,-4),(2181.7,3),(2181.8,-21),(2181.85,-1),(2181.9,6),(2182.05,-6),(2182.1,-2),(2182.2,2),(2182.3,-5),(2182.35,-22),(2182.4,4),(2182.5,-1),(2182.6,-8),(2182.65,2),(2182.7,-3),(2182.8,5),(2182.85,-10),(2182.95,-1),(2183,-6),(2183.1,3),(2183.2,-4),(2183.25,-8),(2183.3,1),(2183.4,-2),(2183.5,-10),(2183.6,3),(2183.7,-5),(2183.75,-1),(2183.8,-8),(2183.9,2),(2184,-7),(2184.05,-18),(2184.1,-3),(2184.2,-12),(2184.25,-5),(2184.3,1),(2184.4,-8),(2184.45,-20),(2184.5,-2),(2184.6,-14),(2184.7,-6),(2184.75,-10),(2184.8,-1),(2184.9,-16),(2185,-9),(2185.05,-4),(2185.1,-13),(2185.2,-7),(2185.25,-1),(2185.4,-11),(2185.45,-5),(2185.5,-15),(2185.6,-8),(2185.7,-18),(2185.75,-4),(2185.8,-12),(2185.95,-7),(2186,-13),(2186.1,-2),(2186.15,-9),(2186.2,-16),(2186.3,-5),(2186.4,-12),(2186.45,-8),(2186.5,-2),(2186.6,-14),(2186.7,-6),(2186.75,-11),(2186.8,0),(2186.9,-9),(2187,-5),(2187.05,-14),(2187.1,-8),(2187.2,-1),(2187.3,-11),(2187.35,-6),(2187.4,-18),(2187.5,-4),(2187.6,-10),(2187.65,3),(2187.7,-7),(2187.85,-13),(2187.9,-3),(2188,-9),(2188.05,-1),(2188.1,-15),(2188.2,-6),(2188.3,1),(2188.35,-11),(2188.4,-4),(2188.5,-8),(2188.6,-2),(2188.65,-13),(2188.7,-5),(2188.8,0),(2188.9,-10),(2188.95,-4),(2189.1,-7),(2189.2,0),(2189.3,-12),(2189.35,-5),(2189.4,-16),(2189.5,-2),(2189.55,-8),(2189.6,-18),(2189.7,1),(2189.8,-5),(2189.85,-11),(2189.9,-3),(2190.1,-7),(2190.2,-19),(2190.25,-2),(2190.3,3),(2190.4,-9),(2190.5,-5),(2190.55,4),(2190.65,-13),(2190.7,-1),(2190.8,2),(2190.85,-8),(2190.9,-16),(2191,-3),(2191.05,-10),(2191.1,3),(2191.2,-6),(2191.3,-1),(2191.35,4),(2191.4,-9),(2191.5,-4),(2191.6,1),(2191.65,-13),(2191.7,-7),(2191.8,-2),(2191.9,-11),(2191.95,-5),(2192,2),(2192.15,-9),(2192.2,-4),(2192.3,-14),(2192.35,0),(2192.4,-7),(2192.5,-3),(2192.6,-10),(2192.65,2),(2192.8,-5),(2192.9,-12),(2193,5),(2193.05,-2),(2193.1,-8),(2193.25,-4),(2193.3,-17),(2193.4,1),(2193.45,-9),(2193.5,-6),(2193.65,5),(2193.7,-3),(2193.75,-19),(2193.85,-9),(2193.9,2),(2194,-5),(2194.05,-14),(2194.15,4),(2194.2,-1),(2194.3,-8),(2194.35,-5),(2194.4,1),(2194.5,-3),(2194.55,-18),(2194.6,-7),(2194.7,2),(2194.8,-3),(2194.85,-11),(2194.9,4),(2195,-2),(2195.05,-7),(2195.1,1),(2195.2,3),(2195.25,-4),(2195.3,-10),(2195.35,-5),(2195.4,2),(2195.5,-1),(2195.6,-6),(2195.65,-12),(2195.7,0),(2195.8,-2),(2195.85,-8),(2195.9,-5),(2196,-4),(2196.05,-10),(2196.1,-13),(2196.2,-6),(2196.25,-3),(2196.3,-8),(2196.35,-18),(2196.4,-12),(2196.45,-5),(2196.5,-9),(2196.55,-16),(2196.6,-7),(2196.65,-13),(2196.7,-20),(2196.75,-10),(2196.8,-15),(2196.85,-5),(2196.9,-22),(2196.95,-13),(2197,-18),(2197.05,-10),(2197.1,-23),(2197.15,-15),(2197.2,-20),(2197.25,-26),(2197.3,-13),(2197.35,-22),(2197.4,-27),(2197.45,-18),(2197.5,-29),(2197.55,-24),(2197.6,-31),(2197.65,-22),(2197.7,-27),(2197.75,-35),(2197.8,-30),(2197.85,-38),(2197.9,-26),(2197.95,-33),(2198,-41),(2198.05,-36),(2198.1,-31),(2198.15,-43),(2198.2,-38),(2198.25,-46),(2198.3,-34),(2198.35,-41),(2198.4,-48),(2198.45,-44),(2198.5,-39),(2198.55,-50),(2198.6,-45),(2198.65,-53),(2198.7,-42),(2198.75,-48),(2198.85,-54),(2198.95,-44),(2199,-51)]

res_band_c = [(2199.05,-57),(2199.1,-47),(2199.15,-53),(2199.25,-60),(2199.3,-49),(2199.35,-43),(2199.4,-55),(2199.45,-59),(2199.5,-46),(2199.55,-52),(2199.65,-57),(2199.7,-50),(2199.75,-42),(2199.85,-54),(2199.9,-48),(2199.95,-60),(2200,-53),(2200.05,-45),(2200.1,-58),(2200.15,-50),(2200.2,-39),(2200.25,-55),(2200.3,-47),(2200.35,-62),(2200.4,-52),(2200.45,-42),(2200.5,-57),(2200.55,-49),(2200.6,-61),(2200.65,-53),(2200.7,-45),(2200.75,-56),(2200.8,-48),(2200.85,-42),(2200.9,-59),(2200.95,-51),(2201,-55),(2201.05,-47),(2201.1,-62),(2201.15,-44),(2201.2,-53),(2201.25,-58),(2201.3,-49),(2201.35,-40),(2201.4,-55),(2201.45,-62),(2201.5,-51),(2201.55,-46),(2201.6,-57),(2201.65,-53),(2201.7,-61),(2201.75,-41),(2201.8,-49),(2201.85,-55),(2201.9,-59),(2201.95,-48),(2202,-52),(2202.05,-64),(2202.1,-46),(2202.15,-56),(2202.2,-50),(2202.25,-60),(2202.3,-53),(2202.35,-47),(2202.4,-57),(2202.45,-51),(2202.5,-43),(2202.55,-59),(2202.6,-54),(2202.65,-49),(2202.7,-57),(2202.75,-46),(2202.8,-53),(2202.85,-60),(2202.9,-50),(2202.95,-43),(2203,-55),(2203.05,-48),(2203.1,-58),(2203.15,-52),(2203.2,-41),(2203.25,-54),(2203.3,-62),(2203.35,-49),(2203.4,-46),(2203.45,-57),(2203.5,-51),(2203.6,-44),(2203.65,-55),(2203.7,-48),(2203.75,-60),(2203.8,-53),(2203.9,-46),(2203.95,-58),(2204,-50),(2204.05,-44),(2204.15,-55),(2204.2,-60),(2204.25,-49),(2204.3,-53),(2204.35,-46),(2204.4,-57),(2204.45,-51),(2204.5,-63),(2204.6,-48),(2204.65,-54),(2204.7,-60),(2204.75,-50),(2204.8,-46),(2204.85,-56),(2204.9,-52),(2204.95,-42),(2205,-58),(2205.05,-49),(2205.1,-54),(2205.2,-61),(2205.25,-47),(2205.3,-53),(2205.35,-45),(2205.4,-57),(2205.45,-51),(2205.5,-60),(2205.55,-48),(2205.65,-54),(2205.7,-44),(2205.75,-57),(2205.8,-50),(2205.85,-62),(2205.9,-46),(2205.95,-53),(2206.05,-47),(2206.1,-58),(2206.15,-42),(2206.2,-54),(2206.25,-60),(2206.3,-49),(2206.35,-45),(2206.4,-56),(2206.45,-51),(2206.5,-61),(2206.55,-47),(2206.6,-53),(2206.65,-44),(2206.7,-58),(2206.75,-50),(2206.8,-55),(2206.85,-46),(2206.9,-60),(2206.95,-52),(2207,-48),(2207.05,-57),(2207.1,-42),(2207.15,-53),(2207.25,-61),(2207.3,-47),(2207.35,-55),(2207.4,-50),(2207.45,-45),(2207.5,-58),(2207.55,-52),(2207.6,-43),(2207.65,-56),(2207.7,-48),(2207.75,-61),(2207.8,-50),(2207.85,-44),(2207.9,-54),(2207.95,-47),(2208,-58),(2208.05,-42),(2208.1,-52),(2208.15,-47),(2208.2,-60),(2208.25,-44),(2208.3,-55),(2208.35,-41),(2208.4,-50),(2208.5,-57),(2208.6,-46),(2208.65,-53),(2208.7,-63),(2208.75,-48),(2208.8,-44),(2208.85,-55),(2208.9,-50),(2208.95,-42),(2209,-59),(2209.05,-47),(2209.1,-53),(2209.15,-64),(2209.2,-45),(2209.3,-56),(2209.35,-49),(2209.4,-41),(2209.45,-54),(2209.5,-60),(2209.55,-47),(2209.6,-52),(2209.65,-44),(2209.7,-57),(2209.75,-50),(2209.8,-46),(2209.85,-61),(2209.9,-53),(2210,-48),(2210.05,-43),(2210.1,-56),(2210.15,-51),(2210.2,-60),(2210.25,-47),(2210.3,-53),(2210.35,-41),(2210.4,-57),(2210.45,-49),(2210.5,-45),(2210.55,-59),(2210.6,-52),(2210.65,-47),(2210.7,-56),(2210.75,-42),(2210.85,-51),(2210.9,-58),(2211,-46),(2211.05,-54),(2211.15,-60),(2211.2,-49),(2211.25,-44),(2211.3,-55),(2211.35,-51),(2211.4,-46),(2211.45,-59),(2211.55,-52),(2211.6,-43),(2211.65,-56),(2211.7,-49),(2211.75,-61),(2211.8,-47),(2211.85,-53),(2211.9,-44),(2211.95,-57),(2212,-50),(2212.05,-41),(2212.1,-54),(2212.15,-48),(2212.2,-60),(2212.25,-52),(2212.3,-45),(2212.4,-56),(2212.45,-50),(2212.5,-40),(2212.55,-54),(2212.6,-47),(2212.65,-58),(2212.7,-44),(2212.75,-52),(2212.8,-61),(2212.85,-48),(2212.9,-43),(2213,-55),(2213.05,-46),(2213.1,-52),(2213.15,-59),(2213.2,-47),(2213.25,-54),(2213.3,-44),(2213.35,-50),(2213.4,-56)]

# further points of the densest part of the upper band and of the lower plateau
res_band_d = [(2144.53,-1.5),(2144.87,0.5),(2145.13,-2.5),(2145.37,3.5),(2145.63,-0.5),(2145.93,1.5),(2146.17,-3.5),(2146.43,0.5),(2146.67,-1.5),(2146.97,2.5),(2147.23,-2),(2147.47,0.5),(2147.73,3),(2147.97,-4.5),(2148.23,1.2),(2148.47,-2.4),(2148.77,0.4),(2149.03,3.4),(2149.27,-1.6),(2149.53,-3.8),(2149.77,1.8),(2150.03,0.2),(2150.27,-2.2),(2150.53,2.8),(2150.77,-0.8),(2151.03,3.6),(2151.27,-3.4),(2151.53,0.8),(2151.77,-1.2),(2152.03,2.4),(2152.27,0.4),(2152.53,-2.6),(2152.77,1.6),(2153.03,-0.6),(2153.27,2.2),(2153.53,-3),(2153.77,4),(2154.03,0.6),(2154.27,3.2),(2154.53,-1.4),(2154.77,1),(2155.03,-0.4),(2155.27,3.8),(2155.53,-2),(2155.77,0.4),(2156.03,2),(2156.27,-1.8),(2156.53,3),(2156.77,-3.2),(2157.03,0.8),(2157.27,2.6),(2157.53,-0.2),(2157.77,1.4),(2158.03,-2.8),(2158.27,3.4),(2158.53,0.2),(2158.77,-1),(2159.03,2),(2159.27,-3.6),(2159.53,1.2),(2159.77,-0.6),(2160.03,2.8),(2160.27,-2.2),(2160.53,0.6),(2160.77,-3),(2161.03,3.2),(2161.27,-1.4),(2161.53,0.4),(2161.77,2.2),(2162.03,-2.6),(2162.27,1),(2162.53,-0.8),(2162.77,3),(2163.03,-1.8),(2163.27,0.8),(2163.53,3.6),(2163.77,-2.4),(2164.03,2.2),(2164.27,-0.4),(2164.53,1.4),(2164.77,-3.4),(2165.03,0.2),(2165.27,3.4),(2165.53,-1.6),(2165.77,0.6),(2166.03,-2.8),(2166.27,2.4),(2166.53,-0.2),(2166.77,1.8),(2167.03,-3.2),(2167.27,0.4),(2167.53,2.6),(2167.77,-1.2),(2168.03,1),(2168.27,-2.4),(2168.53,3.2),(2168.77,-0.6),(2169.03,1.6),(2169.27,-3),(2169.53,0.8),(2169.77,2.8),(2170.03,-1.4),(2170.27,0.6),(2170.53,-2.6),(2170.77,3),(2171.03,-0.4),(2171.27,2),(2171.53,-3.6),(2171.77,0.2),(2172.03,1.8),(2172.27,-2),(2172.53,3.4),(2172.77,-0.8),(2173.03,1.2),(2173.27,-2.8),(2173.53,0.6),(2173.77,2.4),(2174.03,-1.6),(2174.27,1),(2174.53,-3),(2174.77,2.2),(2175.03,-0.2),(2175.27,1.6),(2175.53,-2.4),(2175.77,0.8),(2176.03,2.6),(2176.27,-1),(2176.53,0.4),(2176.77,-3),(2177.03,1.8),(2177.27,-0.6),(2177.53,2.2),(2177.77,-1.8),(2178.03,0.4),(2178.27,-3.4),(2178.53,1),(2178.77,-1.2),(2179.03,-4),(2179.27,1.4),(2179.53,-2.6),(2179.77,-0.4),(2180.03,-3.2),(2180.27,0.8),(2180.53,-1.8),(2180.77,-4.4),(2181.03,-0.6),(2181.27,-2.8),(2181.53,-5),(2181.77,-1.4),(2182.03,-3.6),(2182.27,-0.4),(2182.53,-4.6),(2182.77,-2.2),(2183.03,-5.4),(2183.27,-1),(2183.53,-3.4),(2183.77,-6),(2184.03,-2.6),(2184.27,-7.4),(2184.53,-4.4),(2184.77,-8.2),(2185.03,-5.6),(2185.27,-9),(2185.53,-3.8),(2185.77,-7.6),(2186.03,-10),(2186.27,-6.2),(2186.53,-8.8),(2186.77,-4.6),(2187.03,-7.2),(2187.27,-9.6),(2187.53,-5.8),(2187.77,-8.4),(2188.03,-4.2),(2188.27,-7.8),(2188.53,-5.2),(2188.77,-8.6),(2189.03,-3.6),(2189.27,-6.4),(2189.53,-9.4),(2189.77,-4.8),(2190.03,-7),(2190.27,-3.2),(2190.53,-6),(2190.77,-8.8),(2191.03,-4.4),(2191.27,-6.8),(2191.53,-2.6),(2191.77,-5.4),(2192.03,-8),(2192.27,-3.8),(2192.53,-6.2),(2192.77,-1.8),(2193.03,-4.2),(2193.27,-7.4),(2193.53,-2.2),(2193.77,-5),(2194.03,-1.2),(2194.27,-3.6),(2194.53,-6.4),(2194.77,-0.8),(2195.03,-3),(2195.27,-5.6),(2195.53,-2.4)]

res_band_e = [(2199.33,-51),(2199.63,-48),(2199.88,-53),(2200.13,-50),(2200.38,-55),(2200.63,-49),(2200.88,-52),(2201.13,-54),(2201.38,-48),(2201.63,-51),(2201.88,-54),(2202.13,-49),(2202.38,-52),(2202.63,-55),(2202.88,-47),(2203.13,-50),(2203.38,-53),(2203.63,-49),(2203.88,-52),(2204.13,-48),(2204.38,-54),(2204.63,-51),(2204.88,-47),(2205.13,-53),(2205.38,-49),(2205.63,-55),(2205.88,-50),(2206.13,-47),(2206.38,-52),(2206.63,-49),(2206.88,-54),(2207.13,-46),(2207.38,-51),(2207.63,-48),(2207.88,-53),(2208.13,-50),(2208.38,-45),(2208.63,-52),(2208.88,-47),(2209.13,-50),(2209.38,-54),(2209.63,-48),(2209.88,-51),(2210.13,-46),(2210.38,-53),(2210.63,-49),(2210.88,-45),(2211.13,-52),(2211.38,-48),(2211.63,-50),(2211.88,-46),(2212.13,-52),(2212.38,-48),(2212.63,-51),(2212.88,-46),(2213.13,-50),(2213.38,-47),
(2199.43,-53),(2199.73,-55),(2199.98,-49),(2200.23,-52),(2200.48,-51),(2200.73,-54),(2200.98,-47),(2201.23,-50),(2201.48,-53),(2201.73,-49),(2201.98,-55),(2202.23,-47),(2202.48,-50),(2202.73,-52),(2202.98,-54),(2203.23,-48),(2203.48,-51),(2203.73,-55),(2203.98,-47),(2204.23,-52),(2204.48,-49),(2204.73,-53),(2204.98,-50),(2205.23,-55),(2205.48,-47),(2205.73,-51),(2205.98,-49),(2206.23,-54),(2206.48,-47),(2206.73,-52),(2206.98,-50),(2207.23,-48),(2207.48,-54),(2207.73,-46),(2207.98,-51),(2208.23,-49),(2208.48,-53),(2208.73,-47),(2208.98,-51),(2209.23,-48),(2209.48,-50),(2209.73,-46),(2209.98,-52),(2210.23,-49),(2210.48,-47),(2210.73,-51),(2210.98,-53),(2211.23,-47),(2211.48,-50),(2211.73,-53),(2211.98,-48),(2212.23,-50),(2212.48,-53),(2212.73,-47),(2212.98,-50),(2213.23,-49)]

# median residual image: one column, rows 700..752 from the bottom up
image_rows = [0.15,0.15,0.14,0.15,0.15,0.14,0.15,0.14,0.15,0.15,0.14,0.15,0.15,0.14,0.15,0.14,0.15,0.13,0.15,0.14,
              0.15,0.14,0.14,0.15,0.13,0.15,0.14,0.15,0.14,0.15,0.16,0.12,0.14,0.15,0.13,0.14,0.12,0.15,0.13,0.14,
              0.14,0.13,0.13,0.14,0.14,0.14,0.14,0.14,0.36,0.13,0.03,1.00,0.52]
image_col_edges = [549, 550]
image_row_edges = list(range(700, 754))
mask_rows = list(range(700, 752))

sns.set_theme(style="ticks")
INK, FRAME, RED = "#484848", "#666666", "#bd3527"
plt.rcParams.update({
    "font.family": ["DejaVu Sans"], "text.color": INK, "axes.labelcolor": INK,
    "xtick.labelcolor": INK, "ytick.labelcolor": INK,
    "xtick.color": FRAME, "ytick.color": FRAME, "axes.edgecolor": FRAME,
    "axes.linewidth": 1.8, "legend.edgecolor": FRAME,
})

W, H = 2311, 1291
fig = plt.figure(figsize=(W / 100, H / 100), dpi=100, facecolor="white")

def place(left, top, right, bottom):
    return fig.add_axes([left / W, 1 - bottom / H, (right - left) / W, (bottom - top) / H])

def style_axis(ax, ymajor, yminor):
    ax.xaxis.set_major_locator(MultipleLocator(10))
    ax.xaxis.set_minor_locator(MultipleLocator(2))
    ax.yaxis.set_major_locator(MultipleLocator(ymajor))
    ax.yaxis.set_minor_locator(MultipleLocator(yminor))
    ax.tick_params(which="major", direction="in", length=12.5, width=1.5, labelsize=17.5, pad=9)
    ax.tick_params(which="minor", direction="in", length=6.5, width=1.3)
    ax.tick_params(axis="x", pad=10)
    ax.set_xlim(2140.5, 2216.8)

ax_top = place(131.5, 126.7, 1435.6, 620)
lc_time = np.array([p[0] for g in lc_groups for p in g])
lc_flux = np.array([p[1] for g in lc_groups for p in g], dtype=float)
sc_flux = lc_flux + np.repeat(sc_above_lc, [len(g) for g in lc_groups])
frame_top = pd.DataFrame({"time": lc_time, "lc": lc_flux, "sc": sc_flux})
sns.scatterplot(data=frame_top, x="time", y="sc", ax=ax_top, marker="+", s=250, linewidth=2.2,
                color=RED, label="SC (binned)", zorder=2)
sns.scatterplot(data=frame_top, x="time", y="lc", ax=ax_top, marker="o", s=30, linewidth=0,
                color="black", label="LC", zorder=3)
ax_top.set_ylim(3350, 8281)
style_axis(ax_top, 1000, 200)
ax_top.set_xlabel("Time - 2454833 [BKJD days]", fontsize=22.7, labelpad=4)
ax_top.set_ylabel(r"Flux [e$^-$ s$^{-1}$]", fontsize=22.7, labelpad=2.5)
leg = ax_top.legend(loc="upper right", fontsize=16.5, frameon=True, fancybox=True, framealpha=1,
                    borderaxespad=0.5, handletextpad=0.8, scatterpoints=3, labelspacing=0.55)
leg.get_frame().set_linewidth(1.8)

ax_bot = place(131.5, 713, 1435.6, 1204)
res_all = res_band_a + res_band_b + res_band_c + res_band_d + res_band_e + res_outliers
frame_bot = pd.DataFrame({"time": [p[0] for p in res_all], "res": [p[1] for p in res_all]})
sns.scatterplot(data=frame_bot, x="time", y="res", ax=ax_bot, marker="o", s=13, linewidth=0,
                color="#1f77b4", label="LC-SC (all pixels)", zorder=2)
sns.scatterplot(data=frame_bot, x="time", y="res", ax=ax_bot, marker="o", s=13, linewidth=0,
                color=RED, label="LC-SC (pipeline mask)", zorder=3)
ax_bot.set_ylim(-110, 26.1)
style_axis(ax_bot, 20, 5)
ax_bot.set_xlabel("Time - 2454833 [BKJD days]", fontsize=22.7, labelpad=4)
ax_bot.set_ylabel("Residual [e-/s]", fontsize=22.7, labelpad=3.5)
leg = ax_bot.legend(loc="upper right", fontsize=16.5, frameon=True, fancybox=True, framealpha=1,
                    borderaxespad=0.5, handletextpad=0.8, scatterpoints=3, labelspacing=0.5)
leg.get_frame().set_linewidth(1.8)

ax_img = place(2025.5, 126.7, 2046.5, 1204.5)
mesh = ax_img.pcolormesh(image_col_edges, image_row_edges, np.array(image_rows).reshape(-1, 1),
                         cmap="viridis", vmin=-1, vmax=1, zorder=1)
for row in mask_rows:
    ax_img.add_patch(Rectangle((image_col_edges[0], row), 1, 1, fill=False, edgecolor="#e8141c",
                               linewidth=1.5, zorder=3))
ax_img.set_xlim(549, 550)
ax_img.set_ylim(700, 753.07)
ax_img.xaxis.set_major_locator(FixedLocator([549, 550]))
ax_img.xaxis.set_minor_locator(MultipleLocator(0.2))
ax_img.yaxis.set_major_locator(MultipleLocator(10))
ax_img.tick_params(axis="x", which="major", direction="in", length=0, labelsize=17.5, pad=8)
ax_img.tick_params(axis="x", which="minor", direction="in", length=5, width=1.2, zorder=5)
ax_img.tick_params(axis="y", which="major", length=0, labelsize=17.5, pad=7)
ax_img.set_xlabel("Pixel Column Number", fontsize=22.7, labelpad=5)
ax_img.set_ylabel("Pixel Row Number", fontsize=22.7, labelpad=4.5)
ax_img.set_title("Median residual image", fontsize=27.1, pad=14, color=INK)

ax_cb = place(2111, 126.7, 2165, 1204.5)
cbar = fig.colorbar(mesh, cax=ax_cb)
cbar.set_ticks(np.arange(-1, 1.01, 0.25))
cbar.ax.tick_params(length=0, labelsize=17.5, pad=9)
cbar.outline.set_edgecolor(FRAME)
cbar.outline.set_linewidth(1.8)
cbar.set_label(r"$\delta$ Flux [e-s$^{-1}$]", fontsize=22.7, labelpad=6)

fig.text(1189 / W, 1 - 38 / H, TITLE, fontsize=36, ha="center", va="center", color=INK)
fig.savefig("out.png", dpi=100, facecolor="white")
